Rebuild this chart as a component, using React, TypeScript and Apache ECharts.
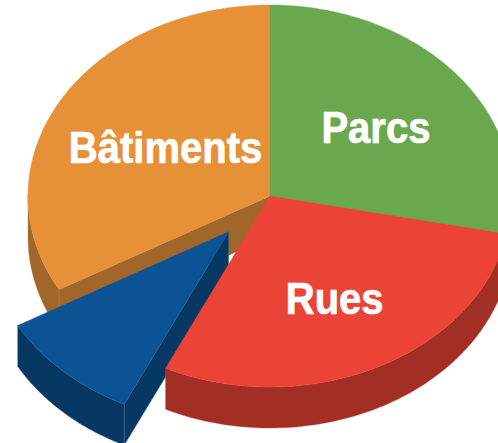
import React, { useEffect, useRef } from "react";
import * as echarts from "echarts";

const categories = ["Parcs", "Rues", "", "Bâtiments"];
const values = [28.2, 28.9, 9.75, 33.15];
const explode = [0, 0, 0.25, 0];
const topColors = ["#6aa84f", "#eb4436", "#0b5394", "#e69138"];
const sideColors = ["#4c7a38", "#a32e24", "#073763", "#a1662a"];
const seamColors = ["#6aa84f", "#b5483e", "#3a6c9c", "#b88545"];
const labelRadius = [0.565, 0.6, 0, 0.5];
const drawOrder = [3, 0, 2, 1];

const WIDTH = 498;
const HEIGHT = 443;
const CX = 270;
const CY = 196;
const RX = 242;
const RY = 191;
const DEPTH = 41;
const total = values.reduce((a, b) => a + b, 0);

function sliceAngles(i: number): [number, number] {
  const before = values.slice(0, i).reduce((a, b) => a + b, 0);
  return [(before / total) * 2 * Math.PI, ((before + values[i]) / total) * 2 * Math.PI];
}

function rim(t: number, ox: number, oy: number, f = 1): number[] {
  return [CX + ox + RX * f * Math.sin(t), CY + oy - RY * f * Math.cos(t)];
}

function renderSlice(params: any) {
  const i = drawOrder[params.dataIndex];
  const [a0, a1] = sliceAngles(i);
  const mid = (a0 + a1) / 2;
  const ox = explode[i] * RX * Math.sin(mid);
  const oy = -explode[i] * RY * Math.cos(mid) + (explode[i] ? 1 : 0);
  const steps = Math.max(8, Math.ceil(((a1 - a0) * 180) / Math.PI));
  const arc: number[][] = [];
  for (let s = 0; s <= steps; s++) arc.push(rim(a0 + ((a1 - a0) * s) / steps, ox, oy));
  const apex = [CX + ox, CY + oy];
  const children: any[] = [];
  const down = (p: number[]) => [p[0], p[1] + DEPTH];
  const face = (points: number[][], fill: string) => ({
    type: "polygon",
    shape: { points },
    style: { fill, stroke: seamColors[i], lineWidth: 0.4 },
  });

  // Outer wall: only the part of the rim that faces the viewer (bottom half).
  const visible = arc.filter((_, s) => {
    const t = a0 + ((a1 - a0) * s) / steps;
    return Math.cos(t) <= 0.02;
  });
  if (visible.length > 1) {
    children.push(face([...visible, ...visible.slice().reverse().map(down)], sideColors[i]));
  }
  // Cut walls: drawn only when their outward normal points down the screen.
  const startVisible = Math.cos(a0 - Math.PI / 2) < -1e-6;
  const endVisible = Math.cos(a1 + Math.PI / 2) < -1e-6;
  if (endVisible) {
    const e = arc[arc.length - 1];
    children.push(face([apex, e, down(e), down(apex)], sideColors[i]));
  }
  if (startVisible) {
    const e = arc[0];
    children.push(face([apex, e, down(e), down(apex)], sideColors[i]));
  }
  children.push({
    type: "polygon",
    shape: { points: [apex, ...arc] },
    style: { fill: topColors[i], stroke: topColors[i], lineWidth: 0.4 },
  });
  if (categories[i]) {
    const p = rim(mid, ox, oy, labelRadius[i]);
    children.push({
      type: "text",
      x: p[0],
      y: p[1],
      scaleX: 0.91,
      style: {
        text: categories[i],
        fill: "#ffffff",
        stroke: "#ffffff",
        lineWidth: 0.7,
        font: 'bold 44px "Liberation Sans", Arial, sans-serif',
        textAlign: "center",
        textVerticalAlign: "middle",
      },
    });
  }
  return { type: "group", children };
}

export default function App() {
  const ref = useRef<HTMLDivElement>(null);
  useEffect(() => {
    document.body.style.margin = "0";
    const chart = echarts.init(ref.current!, undefined, { renderer: "svg" });
    chart.setOption({
      animation: false,
      backgroundColor: "#ffffff",
      series: [
        {
          type: "custom",
          coordinateSystem: "none",
          silent: true,
          clip: false,
          data: drawOrder.map((i) => [i, values[i]]),
          renderItem: renderSlice,
        },
      ],
    });
    return () => chart.dispose();
  }, []);
  return <div ref={ref} style={{ width: WIDTH, height: HEIGHT, overflow: "hidden" }} />;
}
